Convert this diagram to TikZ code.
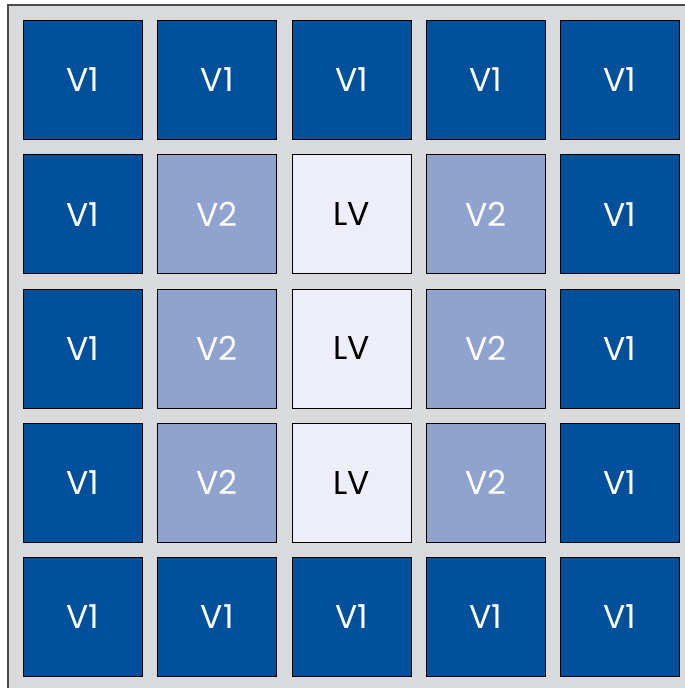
\documentclass[tikz,border=0pt]{standalone}
\usepackage{fontspec}
\setmainfont{Poppins}
\usepackage{tikz}
\usetikzlibrary{positioning}

\definecolor{darkblue}{HTML}{00509C}
\definecolor{midblue}{HTML}{90A2CE}
\definecolor{paleblue}{HTML}{EEEEF8}
\definecolor{panel}{HTML}{D9DADC}

\begin{document}
\begin{tikzpicture}[x=1pt,y=1pt,
    panelbox/.style={draw=black!70, fill=panel, line width=1.3pt},
    cell/.style={draw=black, line width=0.8pt, minimum width=119pt, minimum height=119pt,
        inner sep=0pt, font=\fontsize{33}{33}\selectfont},
    cellV1/.style={cell, fill=darkblue, text=white},
    cellV2/.style={cell, fill=midblue, text=white},
    cellLV/.style={cell, fill=paleblue, text=black}]

\useasboundingbox (0,0) rectangle (685,-688);
\clip (0,0) rectangle (685,-688);
\draw[panelbox] (8,-5) rectangle (700,-700);

% 5 x 5 grid of cells
\foreach \row/\cells in {1/{V1,V1,V1,V1,V1}, 2/{V1,V2,LV,V2,V1}, 3/{V1,V2,LV,V2,V1},
    4/{V1,V2,LV,V2,V1}, 5/{V1,V1,V1,V1,V1}}{
  \foreach \lab [count=\col] in \cells{
    \node[cell\lab] (c-\row-\col) at ({83+134.25*(\col-1)},{-80-134.2*(\row-1)}) {\lab};
  }
}
\end{tikzpicture}
\end{document}
